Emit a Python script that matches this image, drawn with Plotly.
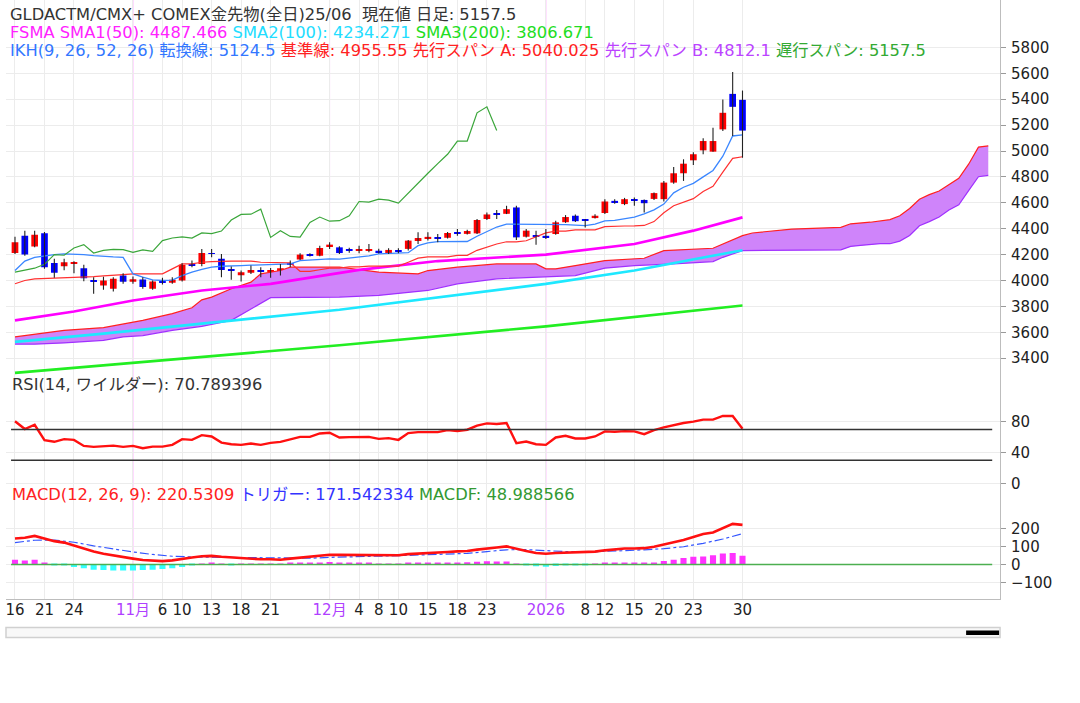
import plotly.graph_objects as go

# ---------------- data ----------------
TICK_POS = [0, 3, 6, 12, 15, 17, 20, 23, 26, 32, 35, 37, 39, 42, 45, 48, 54, 58, 60, 63, 66, 69, 74]
TICK_TEXT = ['16', '21', '24', '11月', '6', '10', '13', '18', '21', '12月', '4', '8', '10',
             '15', '18', '23', '2026', '8', '12', '15', '20', '23', '30']
MONTH_LABELS = ['11月', '12月', '2026']

OPEN = [4213, 4346, 4262, 4364, 4136, 4110, 4130, 4095, 4000, 3962,
        3936, 4038, 3990, 4008, 3936, 3995, 3982, 4000, 4128, 4128,
        4212, 4167, 4085, 4040, 4060, 4082, 4068, 4045, 4130, 4162,
        4200, 4192, 4262, 4256, 4238, 4228, 4232, 4230, 4212, 4235,
        4244, 4305, 4328, 4335, 4330, 4370, 4360, 4364, 4475, 4520,
        4515, 4564, 4338, 4348, 4345, 4359, 4450, 4500, 4470, 4482,
        4521, 4615, 4590, 4628, 4622, 4630, 4628, 4756, 4828, 4928,
        5005, 4995, 5167, 5441, 5395]
HIGH = [4338, 4385, 4385, 4374, 4167, 4167, 4148, 4121, 4026, 4028,
        4026, 4056, 4031, 4026, 4000, 4021, 4026, 4133, 4154, 4244,
        4244, 4205, 4108, 4077, 4115, 4103, 4097, 4128, 4154, 4210,
        4210, 4269, 4295, 4264, 4252, 4269, 4282, 4245, 4250, 4250,
        4313, 4372, 4372, 4359, 4375, 4397, 4392, 4474, 4525, 4544,
        4577, 4577, 4397, 4385, 4397, 4462, 4505, 4510, 4474, 4512,
        4628, 4628, 4638, 4640, 4625, 4680, 4769, 4877, 4936, 4990,
        5098, 5179, 5397, 5610, 5467]
LOW = [4205, 4192, 4256, 4090, 4021, 4079, 4056, 3995, 3898, 3928,
       3915, 3974, 3974, 3936, 3928, 3969, 3974, 3992, 4103, 4110,
       4179, 4026, 4005, 3992, 4051, 4026, 4021, 4038, 4103, 4159,
       4185, 4187, 4244, 4205, 4215, 4210, 4218, 4208, 4205, 4210,
       4231, 4282, 4308, 4295, 4325, 4346, 4355, 4359, 4467, 4474,
       4513, 4313, 4333, 4277, 4321, 4354, 4445, 4452, 4410, 4478,
       4513, 4592, 4582, 4577, 4525, 4622, 4610, 4748, 4769, 4892,
       4974, 4995, 5154, 5115, 4948]
CLOSE = [4295, 4200, 4354, 4102, 4059, 4141, 4136, 4018, 3992, 4000,
         4013, 3990, 4010, 3950, 3992, 3988, 4005, 4121, 4118, 4213,
         4205, 4082, 4078, 4064, 4082, 4065, 4078, 4095, 4125, 4200,
         4195, 4251, 4277, 4212, 4232, 4240, 4238, 4218, 4236, 4225,
         4308, 4328, 4337, 4328, 4367, 4362, 4382, 4467, 4510, 4512,
         4551, 4333, 4385, 4340, 4335, 4449, 4490, 4458, 4462, 4500,
         4610, 4605, 4628, 4620, 4597, 4675, 4756, 4828, 4902, 4975,
         5077, 5077, 5295, 5341, 5157.5]

TENKAN = [4077, 4150, 4179, 4192, 4200, 4205, 4205, 4200, 4192, 4185,
          4182, 4179, 4051, 4026, 4005, 4000, 4003, 4038, 4065, 4085,
          4103, 4110, 4115, 4115, 4118, 4120, 4122, 4125, 4128, 4154,
          4160, 4165, 4167, 4165, 4172, 4179, 4190, 4205, 4210, 4212,
          4215, 4269, 4290, 4300, 4300, 4300, 4301, 4342, 4378, 4413,
          4436, 4436, 4433, 4431, 4431, 4431, 4431, 4427, 4423, 4436,
          4460, 4465, 4480, 4490, 4515, 4545, 4590, 4677, 4720, 4750,
          4800, 4850, 4960, 5116, 5124.5]
KIJUN = [3975, 4000, 4013, 4015, 4018, 4020, 4026, 4028, 4030, 4035,
         4038, 4045, 4051, 4051, 4051, 4051, 4090, 4128, 4128, 4141,
         4145, 4150, 4150, 4150, 4150, 4141, 4141, 4141, 4136, 4071,
         4071, 4083, 4096, 4096, 4105, 4105, 4111, 4111, 4111, 4111,
         4141, 4173, 4182, 4182, 4183, 4194, 4194, 4233, 4258, 4282,
         4299, 4299, 4307, 4340, 4368, 4381, 4382, 4391, 4391, 4391,
         4416, 4416, 4421, 4422, 4425, 4455, 4523, 4577, 4606, 4632,
         4687, 4728, 4837, 4943, 4955.55]

SPAN_A_X = [0, 2, 5, 9, 11, 13, 16, 18, 19, 20, 22, 24, 25, 27, 28, 33, 37, 41, 42, 45,
            49, 53, 54, 55, 57, 60, 64, 66, 71, 72, 74, 75, 79, 84, 85, 87, 89, 90, 91,
            92, 93, 94, 95, 96, 97, 98, 99]
SPAN_A = [3564, 3585, 3615, 3636, 3662, 3692, 3744, 3790, 3851, 3872, 3936, 3987, 4051,
          4077, 4103, 4103, 4064, 4051, 4077, 4103, 4128, 4128, 4090, 4090, 4115, 4154,
          4172, 4231, 4249, 4282, 4346, 4367, 4397, 4410, 4438, 4450, 4470, 4500, 4556,
          4627, 4663, 4691, 4743, 4789, 4898, 5030, 5040.025]
SPAN_B_X = [0, 2, 5, 9, 11, 13, 16, 19, 22, 24, 26, 33, 37, 42, 45, 49, 53, 57, 60, 63,
            67, 71, 72, 74, 84, 85, 86, 88, 89, 90, 91, 92, 93, 94, 95, 96, 97, 98, 99]
SPAN_B = [3508, 3508, 3518, 3538, 3564, 3575, 3615, 3646, 3692, 3782, 3867, 3872, 3885,
          3923, 3974, 4013, 4026, 4038, 4095, 4115, 4128, 4146, 4179, 4231, 4236, 4263,
          4271, 4284, 4284, 4304, 4348, 4423, 4455, 4491, 4545, 4585, 4694, 4801, 4812.1]

SMA1_X = [0, 6, 12, 19, 26, 35, 43, 54, 63, 69, 74]
SMA1 = [3692, 3760, 3846, 3923, 3974, 4082, 4150, 4200, 4282, 4385, 4487.466]
SMA2_X = [0, 9, 19, 33, 54, 63, 74]
SMA2 = [3526, 3590, 3667, 3774, 3974, 4077, 4234.271]
SMA3_X = [0, 33, 54, 74]
SMA3 = [3287, 3500, 3646, 3806.671]

RSI = [80.5, 70.5, 76, 56, 54, 57.4, 56.5, 48.7, 47.4, 48.7,
       49.1, 47.4, 48.7, 45.7, 47.8, 47.8, 50, 57.4, 56.5, 62.6,
       60.9, 53, 50.9, 50, 51.7, 50, 52.6, 53.9, 57.4, 60.4,
       60.4, 64.8, 65.7, 59.6, 60, 60.4, 60.4, 57.8, 58.7, 56.5,
       65.2, 66.5, 66.5, 66.5, 69.1, 67.8, 69.6, 74.8, 77.8, 77,
       78.3, 52.2, 54.3, 50.9, 50, 59.6, 61.7, 58.3, 58.3, 60.9,
       67.4, 67, 67.8, 67.4, 63.9, 69.1, 72.6, 75.7, 78.3, 80,
       82.6, 82.6, 87.4, 87.4, 70.789]
RSI_LEVELS = [70, 30]

MACD = [145, 149, 159, 145, 130, 122, 106, 87, 72, 60,
        50, 41, 33, 25, 21, 19, 23, 33, 39, 46,
        48, 43, 39, 35, 33, 29, 29, 27, 33, 39,
        43, 50, 54, 54, 54, 52, 54, 54, 50, 52,
        58, 62, 64, 66, 70, 73, 75, 83, 91, 95,
        101, 87, 75, 64, 60, 64, 66, 66, 66, 72,
        79, 85, 89, 89, 91, 99, 110, 124, 137, 153,
        170, 178, 203, 226, 220.53]
SIGNAL_X = [0, 2, 4, 6, 8, 10, 12, 14, 16, 18, 20, 22, 24, 26, 28, 30, 32, 34, 36, 38,
            40, 42, 44, 46, 48, 50, 52, 54, 56, 58, 60, 62, 64, 66, 68, 70, 72, 74]
SIGNAL = [122, 135, 136, 124, 104, 86, 70, 56, 46, 42, 41, 40, 37, 34, 33, 35, 40, 44, 47, 48,
          51, 54, 58, 62, 72, 82, 83, 76, 72, 70, 72, 77, 82, 88, 99, 118, 142, 171.54]
HIST = [27, 23, 27, 10, -4, -6, -14, -21, -29, -31,
        -33, -33, -33, -31, -29, -25, -21, -14, -6, 2,
        6, 4, -2, 2, 3, 2, 3, 4, 6, 8,
        10, 12, 14, 12, 10, 8, 6, 4, 4, 3,
        6, 8, 10, 10, 12, 12, 13, 16, 18, 17,
        17, 3, -6, -10, -12, -8, -6, -4, -2, 2,
        8, 10, 10, 8, 6, 10, 19, 27, 37, 43,
        44, 52, 62, 64, 48.99]

# ---------------- geometry helpers ----------------
W, H = 1080, 703
VSCALE = 697.4  # effective vertical pixel extent as photographed


def py(px):
    return max(0.0, min(1.0, 1 - (px + 0.9) / VSCALE))


XDOM = [5 / W, 1000 / W]
XRANGE = [-0.915, 100.2]
FONT = "DejaVu Sans, Noto Sans CJK JP, sans-serif"
GRID = '#ececec'
AXLINE = '#bdbdbd'
TFS = 16.3

idx = list(range(len(CLOSE)))
fig = go.Figure()

# ---------------- main panel ----------------
fig.add_trace(go.Scatter(x=SPAN_B_X, y=SPAN_B, mode='lines', line=dict(color='#a030ff', width=1.2),
                         xaxis='x', yaxis='y', hoverinfo='skip'))
fig.add_trace(go.Scatter(x=SPAN_A_X, y=SPAN_A, mode='lines', line=dict(color='#ff2020', width=1.2),
                         fill='tonexty', fillcolor='#cf84fa', xaxis='x', yaxis='y', hoverinfo='skip'))
fig.add_trace(go.Scatter(x=SMA3_X, y=SMA3, mode='lines', line=dict(color='#22ee22', width=2.6),
                         xaxis='x', yaxis='y'))
fig.add_trace(go.Scatter(x=SMA2_X, y=SMA2, mode='lines', line=dict(color='#1ee8ff', width=2.6),
                         xaxis='x', yaxis='y'))
fig.add_trace(go.Scatter(x=SMA1_X, y=SMA1, mode='lines', line=dict(color='#ff00ff', width=2.6),
                         xaxis='x', yaxis='y'))
fig.add_trace(go.Scatter(x=idx, y=KIJUN, mode='lines', line=dict(color='#ff3030', width=1.2),
                         xaxis='x', yaxis='y'))
fig.add_trace(go.Scatter(x=idx, y=TENKAN, mode='lines', line=dict(color='#3a86ff', width=1.3),
                         xaxis='x', yaxis='y'))
lag = 25
fig.add_trace(go.Scatter(x=idx[:len(CLOSE) - lag], y=CLOSE[lag:], mode='lines',
                         line=dict(color='#3aa63a', width=1.2), xaxis='x', yaxis='y'))

# candle wicks
wx, wy = [], []
for i, h, l in zip(idx, HIGH, LOW):
    wx += [i, i, None]
    wy += [l, h, None]
fig.add_trace(go.Scatter(x=wx, y=wy, mode='lines', line=dict(color='#222222', width=1.1),
                         xaxis='x', yaxis='y', hoverinfo='skip'))
# candle bodies
base = [min(o, c) for o, c in zip(OPEN, CLOSE)]
hgt = [max(abs(c - o), 7) for o, c in zip(OPEN, CLOSE)]
col = ['#ff0000' if c >= o else '#0000ff' for o, c in zip(OPEN, CLOSE)]
fig.add_trace(go.Bar(x=idx, y=hgt, base=base, width=0.68, marker=dict(color=col, line=dict(width=0)),
                     xaxis='x', yaxis='y'))

# ---------------- RSI panel ----------------
fig.add_trace(go.Scatter(x=idx, y=RSI, mode='lines', line=dict(color='#ff1010', width=2.4),
                         xaxis='x2', yaxis='y2'))

# ---------------- MACD panel ----------------
hcol = ['#ff33ff' if v >= 0 else '#33ffff' for v in HIST]
fig.add_trace(go.Bar(x=idx, y=HIST, width=0.62, marker=dict(color=hcol, line=dict(width=0)),
                     xaxis='x3', yaxis='y3'))
fig.add_trace(go.Scatter(x=SIGNAL_X, y=SIGNAL, mode='lines',
                         line=dict(color='#3355ff', width=1.2, dash='dashdot'), xaxis='x3', yaxis='y3'))
fig.add_trace(go.Scatter(x=idx, y=MACD, mode='lines', line=dict(color='#ff1010', width=2.6),
                         xaxis='x3', yaxis='y3'))

# ---------------- shapes ----------------
shapes = []
for pos, txt in zip(TICK_POS, TICK_TEXT):
    if txt in MONTH_LABELS:
        shapes.append(dict(type='line', xref='x', yref='paper', x0=pos, x1=pos, y0=py(598), y1=1,
                           line=dict(color='#ffb0ff', width=1), layer='below'))
for lv in RSI_LEVELS:
    shapes.append(dict(type='line', xref='x2', yref='y2', x0=-0.4, x1=99.4, y0=lv, y1=lv,
                       line=dict(color='#333333', width=1.5), layer='above'))
shapes.append(dict(type='line', xref='x3', yref='y3', x0=-0.4, x1=99.4, y0=0, y1=0,
                   line=dict(color='#4caf50', width=1.5), layer='above'))
# scrollbar
shapes.append(dict(type='rect', xref='paper', yref='paper', x0=5 / W, x1=1000 / W, y0=py(637), y1=py(627),
                   line=dict(color='#d0d0d0', width=1.5), fillcolor='#f8f8f8'))
shapes.append(dict(type='rect', xref='paper', yref='paper', x0=966 / W, x1=999 / W, y0=py(634.5), y1=py(630),
                   line=dict(color='#000000', width=0), fillcolor='#000000'))

# ---------------- annotations ----------------
def ann(text, xpx, ypx, size=TFS):
    return dict(text=text, xref='paper', yref='paper', x=xpx / W, y=py(ypx), xanchor='left',
                yanchor='middle', showarrow=False, font=dict(family=FONT, size=size, color='#333333'))


annots = [
    ann('GLDACTM/CMX+ COMEX金先物(全日)25/06\u00a0 現在値 日足: 5157.5', 7, 13.5),
    ann('<span style="color:#ff22ff">FSMA SMA1(50): 4487.466</span> '
        '<span style="color:#22ddff">SMA2(100): 4234.271</span> '
        '<span style="color:#22dd22">SMA3(200): 3806.671</span>', 7, 32),
    ann('<span style="color:#3377ff">IKH(9, 26, 52, 26) 転換線: 5124.5</span> '
        '<span style="color:#ff2222">基準線: 4955.55 先行スパン A: 5040.025</span> '
        '<span style="color:#bb44ff">先行スパン B: 4812.1</span> '
        '<span style="color:#33aa33">遅行スパン: 5157.5</span>', 7, 50),
    ann('RSI(14, ワイルダー): 70.789396', 9, 384),
    ann('<span style="color:#ff2222">MACD(12, 26, 9): 220.5309</span> '
        '<span style="color:#3333ff">トリガー: 171.542334</span> '
        '<span style="color:#339933">MACDF: 48.988566</span>', 9, 494),
]

ticktext_html = [f'<span style="color:#b040ff">{t}</span>' if t in MONTH_LABELS else t for t in TICK_TEXT]


def xax(anchor, labels):
    return dict(domain=XDOM, range=XRANGE, anchor=anchor, tickmode='array', tickvals=TICK_POS,
                ticktext=ticktext_html, showticklabels=labels, showgrid=True, gridcolor=GRID,
                gridwidth=1, zeroline=False, showline=labels, linecolor=AXLINE, ticks='',
                ticklabelstandoff=-3,
                tickfont=dict(family=FONT, size=15, color='#222222'))


def yax(anchor, dom, rng, vals):
    return dict(domain=dom, range=rng, anchor=anchor, side='right', tickmode='array', tickvals=vals,
                showgrid=True, gridcolor=GRID, gridwidth=1, zeroline=False, showline=True,
                linecolor=AXLINE, ticks='outside', ticklen=5, tickcolor='#9a9a9a',
                ticklabelstandoff=2,
                tickfont=dict(family=FONT, size=15, color='#222222'))


fig.update_layout(
    width=W, height=H, margin=dict(l=0, r=0, t=0, b=0),
    paper_bgcolor='white', plot_bgcolor='white', showlegend=False, barmode='overlay',
    xaxis=xax('y', False), xaxis2=xax('y2', False), xaxis3=xax('y3', True),
    yaxis=yax('x', [py(375), 1], [3265, 6166], list(range(3400, 5801, 200))),
    yaxis2=yax('x2', [py(486), py(375)], [-3.9, 139.4], [0, 40, 80]),
    yaxis3=yax('x3', [py(598), py(486)], [-189, 433], [-100, 0, 100, 200]),
    shapes=shapes, annotations=annots,
)

fig.write_html(
    "out.html",
    config={'displayModeBar': False},
    post_script=("document.documentElement.style.overflow='hidden';"
                 "document.body.style.margin='0px';document.body.style.overflow='hidden';"),
)
